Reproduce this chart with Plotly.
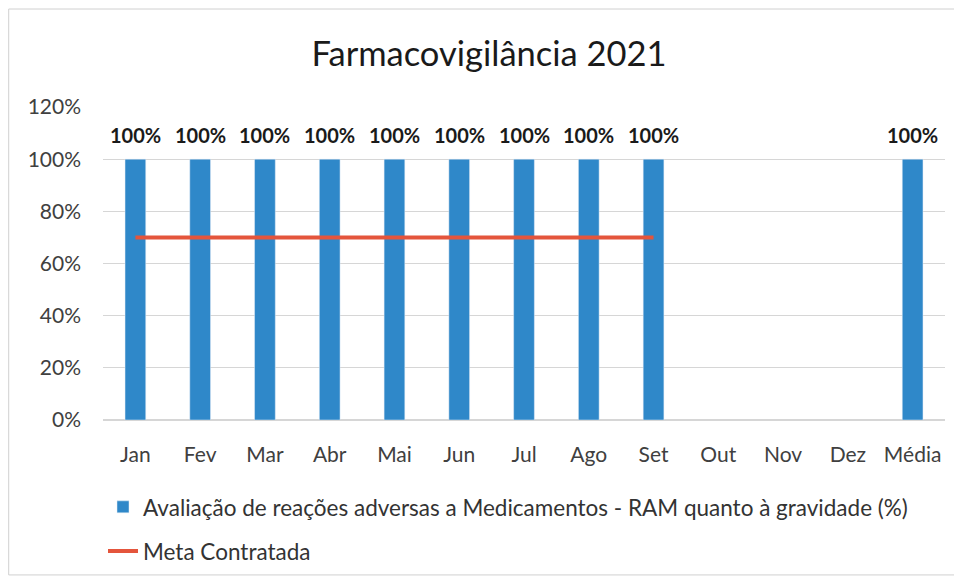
import plotly.graph_objects as go

categories = ["Jan", "Fev", "Mar", "Abr", "Mai", "Jun", "Jul", "Ago", "Set", "Out", "Nov", "Dez", "Média"]
avaliacao = [1.0, 1.0, 1.0, 1.0, 1.0, 1.0, 1.0, 1.0, 1.0, None, None, None, 1.0]
meta = [0.7, 0.7, 0.7, 0.7, 0.7, 0.7, 0.7, 0.7, 0.7, None, None, None, None]
y_ticks = [0, 0.2, 0.4, 0.6, 0.8, 1.0, 1.2]

FONT = "Lato, 'Open Sans', sans-serif"

fig = go.Figure()
fig.add_trace(go.Bar(
    x=categories, y=avaliacao,
    name="Avaliação de reações adversas a Medicamentos - RAM quanto à gravidade (%)",
    marker=dict(color="#2f88c9"), width=0.32,
    legendgroup="a",
))
fig.add_trace(go.Scatter(
    x=categories, y=meta, mode="lines",
    name="Meta Contratada",
    line=dict(color="#e4553c", width=4),
    legendgroup="b",
))

annotations = []
for c, v in zip(categories, avaliacao):
    if v is not None:
        annotations.append(dict(
            x=c, y=v, xref="x", yref="y", text=f"<b>{v:.0%}</b>",
            showarrow=False, yshift=24,
            font=dict(family=FONT, size=20, color="#1a1a1a"),
        ))

fig.update_layout(
    width=962, height=580,
    margin=dict(l=95, r=25, t=99, b=168),
    paper_bgcolor="white", plot_bgcolor="white",
    title=dict(text="Farmacovigilância 2021", x=0.5, xanchor="center",
               y=0.921, yanchor="middle",
               font=dict(family=FONT, size=34.5, color="#1a1a1a")),
    font=dict(family=FONT, size=21, color="#404040"),
    showlegend=True,
    legend=dict(orientation="v", x=0.0, xanchor="left", y=-0.21, yanchor="top",
                font=dict(family=FONT, size=22.5, color="#333333"),
                tracegroupgap=12, bgcolor="rgba(0,0,0,0)"),
    annotations=annotations,
    shapes=[dict(type="rect", xref="paper", yref="paper",
                 x0=-0.112, x1=1.014, y0=-0.495, y1=1.313,
                 line=dict(color="#d0d0d0", width=1))],
)
fig.update_xaxes(showgrid=False, showline=False, ticks="",
                 tickfont=dict(size=21, color="#404040"), ticklabelstandoff=20)
fig.update_yaxes(range=[0, 1.2], tickvals=y_ticks, tickformat=".0%",
                 showgrid=True, gridcolor="#d6d6d6", gridwidth=1,
                 zeroline=True, zerolinecolor="#d6d6d6",
                 tickfont=dict(size=21, color="#404040"), ticklabelstandoff=21)

fig.write_html("out.html")
